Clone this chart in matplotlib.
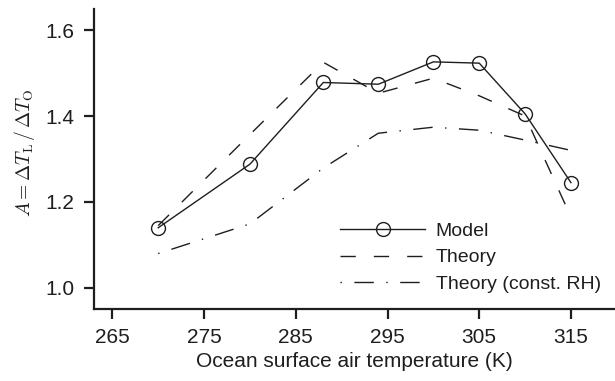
import matplotlib
matplotlib.use("Agg")
import matplotlib.pyplot as plt

plt.rcParams['font.family'] = ['Liberation Sans', 'DejaVu Sans']
plt.rcParams['mathtext.fontset'] = 'cm'

temps = [270, 280, 288, 294, 300, 305, 310, 315]
model = [1.140, 1.288, 1.478, 1.474, 1.526, 1.523, 1.405, 1.245]
theory = [1.145, 1.357, 1.525, 1.453, 1.488, 1.447, 1.400, 1.165]
theory_rh = [1.080, 1.149, 1.279, 1.360, 1.374, 1.367, 1.344, 1.320]
xticks = [265, 275, 285, 295, 305, 315]
yticks = [1.0, 1.2, 1.4, 1.6]

col = '#1e1e1e'
fig = plt.figure(figsize=(6.15, 3.81), dpi=100)
ax = fig.add_axes([94/615, 72/381, 521/615, 300/381])

ax.plot(temps, model, color=col, lw=1.0, marker='o', ms=10, mfc='none',
        mec=col, mew=1.0, label='Model')
ax.plot(temps, theory, color=col, lw=1.0, dashes=(11, 13), label='Theory')
ax.plot(temps, theory_rh, color=col, lw=1.0, dashes=(1, 9, 14, 9),
        label='Theory (const. RH)')

ax.set_xlim(263.0, 319.8)
ax.set_ylim(0.951, 1.649)
ax.set_xticks(xticks)
ax.set_yticks(yticks)
ax.set_yticklabels([f'{v:.1f}' for v in yticks])
for s in ['top', 'right']:
    ax.spines[s].set_visible(False)
for s in ['left', 'bottom']:
    ax.spines[s].set_linewidth(1.6)
    ax.spines[s].set_color(col)
ax.tick_params(direction='out', length=7, width=1.6, colors=col,
               labelsize=15, pad=7)
ax.set_xlabel('Ocean surface air temperature (K)', fontsize=15, color=col,
              labelpad=3)
ax.set_ylabel(r'$A = \Delta T_\mathrm{L}\,/\,\Delta T_\mathrm{O}$', fontsize=14,
              color=col)
ax.yaxis.set_label_coords(-0.11, 0.52)

leg = ax.legend(loc='lower right', bbox_to_anchor=(0.995, 0.015), frameon=False,
                fontsize=14, handlelength=4.35, handletextpad=0.55,
                labelspacing=0.45, borderaxespad=0.2)
for t in leg.get_texts():
    t.set_color(col)

fig.savefig('out.png', dpi=100)
